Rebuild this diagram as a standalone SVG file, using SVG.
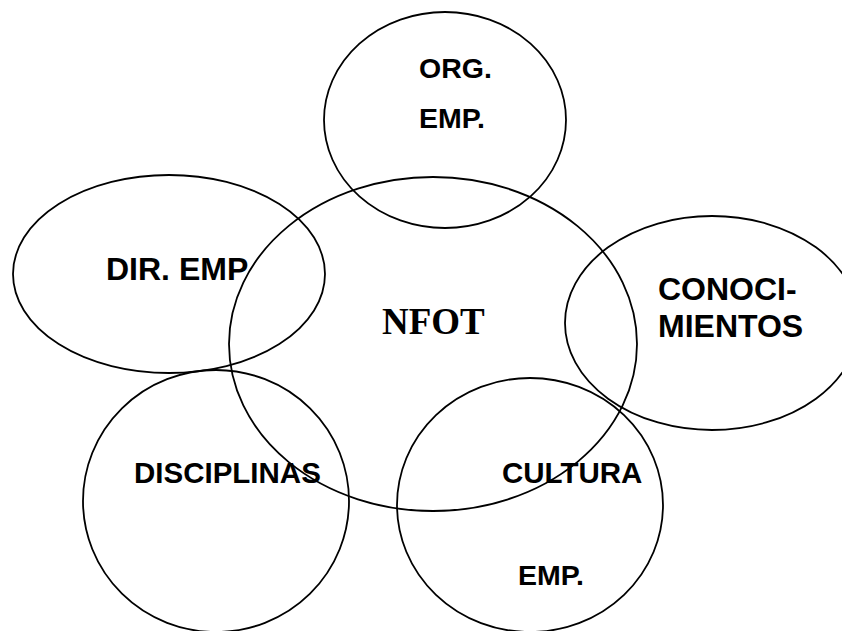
<svg xmlns="http://www.w3.org/2000/svg" width="842" height="631" viewBox="0 0 842 631">
<style>
.e{fill:none;stroke:#000;stroke-width:1.8}
.t{font-family:"Liberation Sans",Arial,sans-serif;font-weight:bold;fill:#000}
.s{font-family:"Liberation Serif","Times New Roman",serif;font-weight:bold;fill:#000}
</style>
<rect width="842" height="631" fill="#fff"/>
<g id="nfot">
<ellipse class="e" cx="433" cy="344" rx="204" ry="167"/>
<text class="s" x="382" y="334" font-size="37">NFOT</text>
</g>
<g id="org-emp">
<ellipse class="e" cx="445" cy="120" rx="121" ry="108"/>
<text class="t" x="419" y="78" font-size="28.5">ORG.</text>
<text class="t" x="419" y="128" font-size="28.5">EMP.</text>
</g>
<g id="dir-emp">
<ellipse class="e" cx="169" cy="274" rx="156" ry="99"/>
<text class="t" x="106" y="280" font-size="32">DIR. EMP</text>
</g>
<g id="conocimientos">
<ellipse class="e" cx="712" cy="323" rx="147" ry="107"/>
<text class="t" x="658" y="300" font-size="32">CONOCI-</text>
<text class="t" x="658" y="337" font-size="32">MIENTOS</text>
</g>
<g id="disciplinas">
<ellipse class="e" cx="216" cy="501" rx="133" ry="131"/>
<text class="t" x="134" y="483" font-size="29.5">DISCIPLINAS</text>
</g>
<g id="cultura-emp">
<ellipse class="e" cx="530" cy="505" rx="133" ry="127"/>
<text class="t" x="502" y="483" font-size="29.5">CULTURA</text>
<text class="t" x="518" y="585" font-size="28.5">EMP.</text>
</g>
<g id="connectors"></g>
</svg>
